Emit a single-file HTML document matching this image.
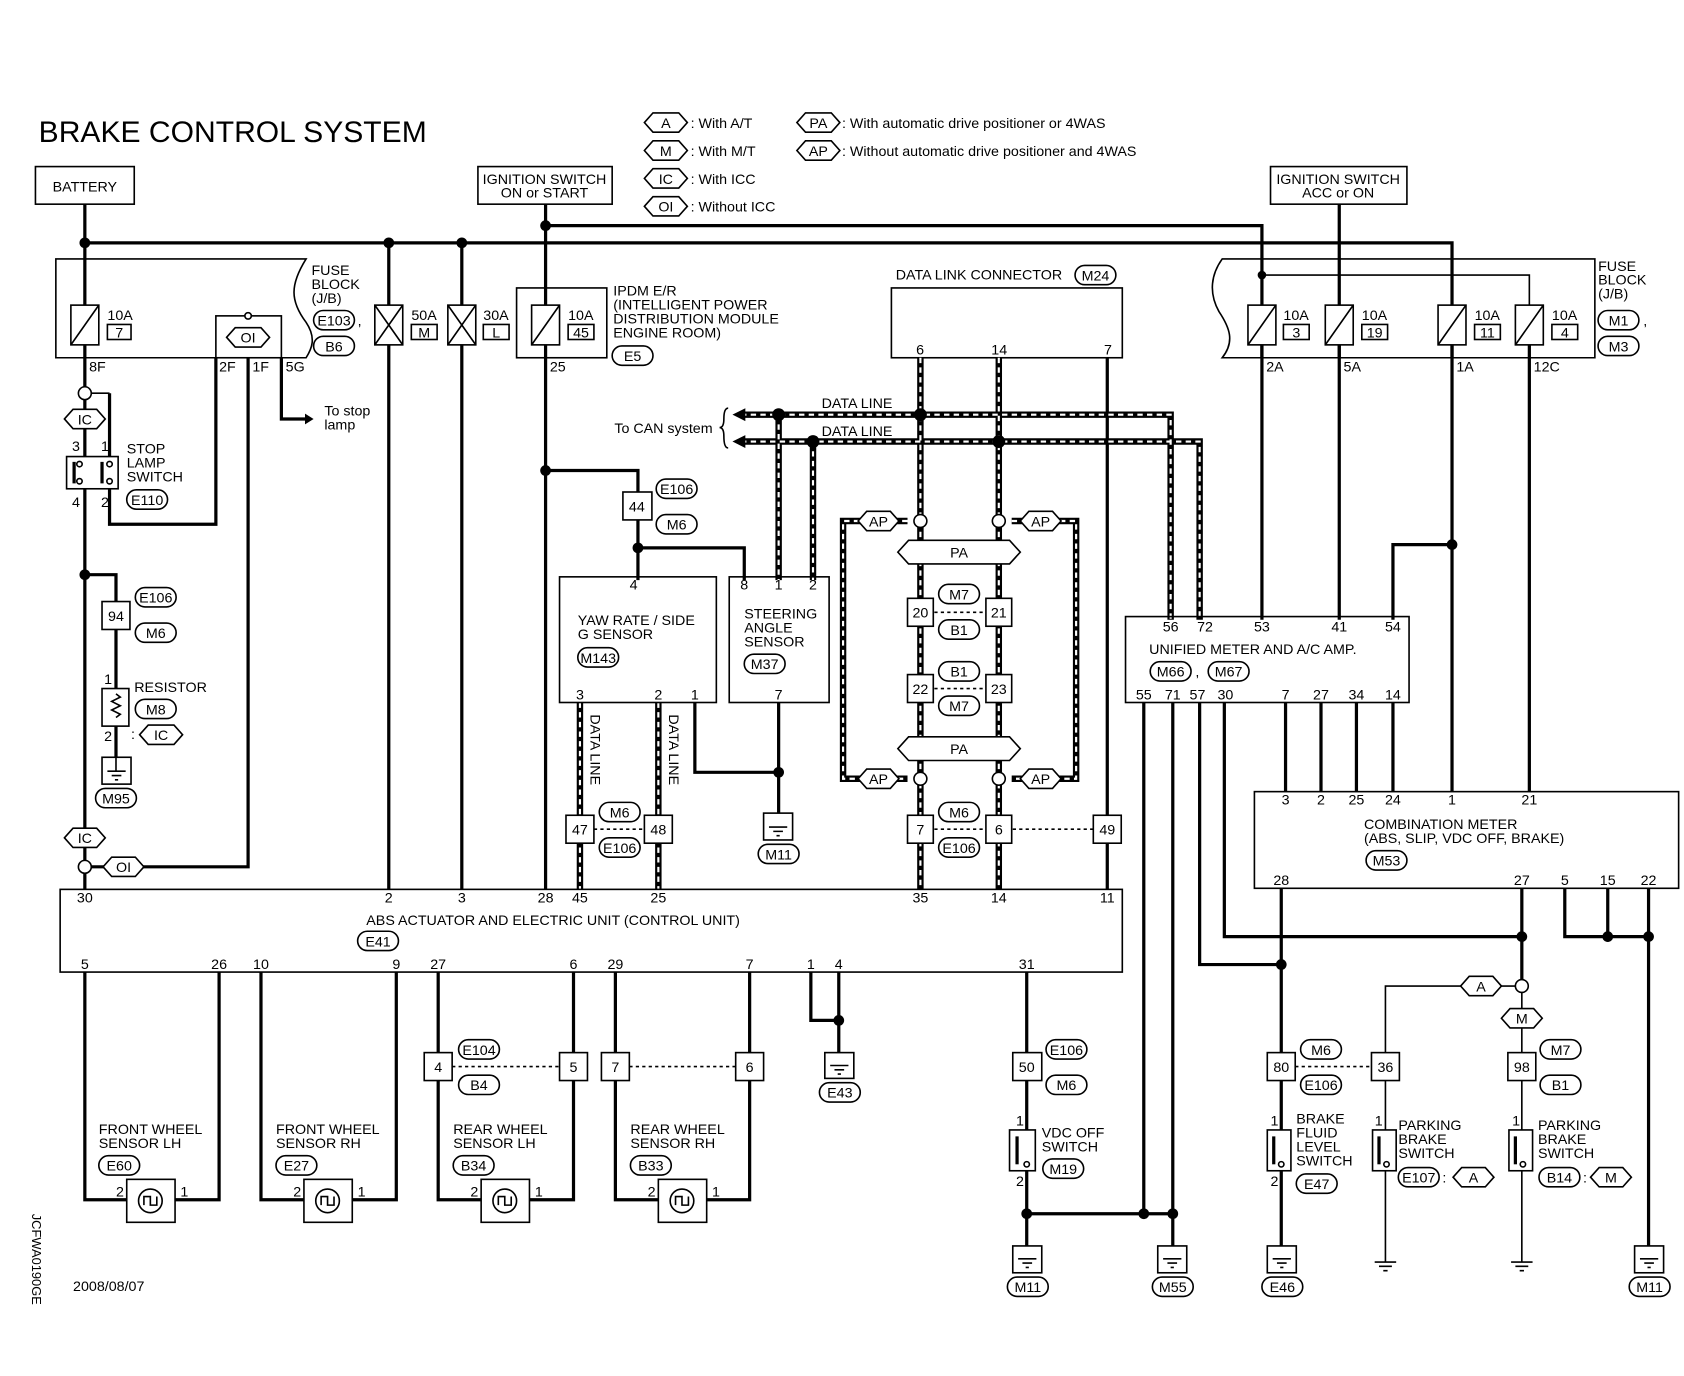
<!DOCTYPE html>
<html><head><meta charset="utf-8"><style>
html,body{margin:0;padding:0;background:#fff}
svg{display:block}
text{font-family:"Liberation Sans",sans-serif;font-size:13.3px;fill:#000}
.w{stroke:#000;stroke-width:3;fill:none}
.t{stroke:#000;stroke-width:1.5;fill:none}
.b{stroke:#000;stroke-width:1.5;fill:#fff}
.dk{stroke:#000;stroke-width:6;fill:none}
.dw{stroke:#fff;stroke-width:2;fill:none;stroke-dasharray:5 4}
.dot{stroke:#000;stroke-width:1.5;fill:none;stroke-dasharray:3 3}
.c{text-anchor:middle}
</style></head><body>
<svg width="1684" height="1376" viewBox="0 0 1568 1281" xmlns="http://www.w3.org/2000/svg">
<rect width="1568" height="1281" fill="#fff"/>
<text x="36" y="132" style="font-size:28px">BRAKE CONTROL SYSTEM</text>

<!-- legend -->
<g class="b">
<polygon points="600,114 608,105 632,105 640,114 632,123 608,123"/>
<polygon points="600,140 608,131 632,131 640,140 632,149 608,149"/>
<polygon points="600,166 608,157 632,157 640,166 632,175 608,175"/>
<polygon points="600,192 608,183 632,183 640,192 632,201 608,201"/>
<polygon points="742,114 750,105 774,105 782,114 774,123 750,123"/>
<polygon points="742,140 750,131 774,131 782,140 774,149 750,149"/>
</g>
<text x="620" y="119" class="c">A</text><text x="620" y="145" class="c">M</text><text x="620" y="171" class="c">IC</text><text x="620" y="197" class="c">OI</text>
<text x="762" y="119" class="c">PA</text><text x="762" y="145" class="c">AP</text>
<text x="643" y="119">: With A/T</text><text x="643" y="145">: With M/T</text><text x="643" y="171">: With ICC</text><text x="643" y="197">: Without ICC</text>
<text x="784" y="119">: With automatic drive positioner or 4WAS</text>
<text x="784" y="145">: Without automatic drive positioner and 4WAS</text>

<!-- top boxes -->
<rect x="33" y="155" width="92" height="35" class="b"/><text x="79" y="178" class="c">BATTERY</text>
<rect x="445" y="155" width="125" height="35" class="b"/><text x="507" y="171" class="c">IGNITION SWITCH</text><text x="507" y="184" class="c">ON or START</text>
<rect x="1183" y="155" width="127" height="35" class="b"/><text x="1246" y="171" class="c">IGNITION SWITCH</text><text x="1246" y="184" class="c">ACC or ON</text>

<!-- power lines -->
<path class="w" d="M79,190 V333 M79,226 H1352 V333 M508,190 V333 M508,210 H1175 V333 M1247,190 V333 M362,226 V828 M430,226 V828"/>
<path class="t" d="M1175,256 H1424 V285"/>
<circle cx="79" cy="226" r="5"/><circle cx="362" cy="226" r="5"/><circle cx="430" cy="226" r="5"/><circle cx="508" cy="210" r="5"/><circle cx="1175" cy="256" r="4"/>

<!-- left fuse block -->
<path class="t" d="M52,241 H285 C270,265 270,280 285,300 C295,315 290,325 285,333 H52 Z"/>
<text x="290" y="256">FUSE</text><text x="290" y="269">BLOCK</text><text x="290" y="282">(J/B)</text>
<rect x="292" y="289" width="38" height="18" rx="9" class="b"/><text x="311" y="303" class="c">E103</text><text x="333" y="303">,</text>
<rect x="292" y="313" width="38" height="18" rx="9" class="b"/><text x="311" y="327" class="c">B6</text>
<rect x="66" y="284" width="26" height="37" class="b"/><path class="t" d="M66,321 L92,284"/>
<text x="100" y="298">10A</text><rect x="100" y="302" width="22" height="14" class="b"/><text x="111" y="314" class="c">7</text>
<rect x="201" y="294" width="61" height="39" class="b"/><circle cx="231" cy="294" r="3" class="b"/>
<polygon class="b" points="211,314 219,305 243,305 251,314 243,323 219,323"/><text x="231" y="319" class="c">OI</text>
<text x="83" y="346">8F</text><text x="204" y="346">2F</text><text x="235" y="346">1F</text><text x="266" y="346">5G</text>
<path class="w" d="M262,333 V390 H285"/><polygon points="292,390 284,385 284,395"/>
<text x="302" y="387">To stop</text><text x="302" y="400">lamp</text>
<rect x="349" y="284" width="26" height="37" class="b"/><path class="t" d="M349,284 L375,321 M375,284 L349,321"/>
<text x="383" y="298">50A</text><rect x="383" y="302" width="24" height="14" class="b"/><text x="395" y="314" class="c">M</text>
<rect x="417" y="284" width="26" height="37" class="b"/><path class="t" d="M417,284 L443,321 M443,284 L417,321"/>
<text x="450" y="298">30A</text><rect x="450" y="302" width="24" height="14" class="b"/><text x="462" y="314" class="c">L</text>
<rect x="481" y="268" width="84" height="65" class="t"/>
<rect x="495" y="284" width="26" height="37" class="b"/><path class="t" d="M495,321 L521,284"/>
<text x="529" y="298">10A</text><rect x="529" y="302" width="24" height="14" class="b"/><text x="541" y="314" class="c">45</text>
<text x="571" y="275">IPDM E/R</text><text x="571" y="288">(INTELLIGENT POWER</text><text x="571" y="301">DISTRIBUTION MODULE</text><text x="571" y="314">ENGINE ROOM)</text>
<rect x="570" y="322" width="38" height="18" rx="9" class="b"/><text x="589" y="336" class="c">E5</text>
<text x="512" y="346">25</text>

<!-- left wiring -->
<path class="w" d="M79,333 V828 M102,366 V425 M102,455 V488 H201 V333 M79,807 H231 V333 M79,535 H108 V560 M108,586 V705"/>
<path class="t" d="M79,366 H102"/>
<circle cx="79" cy="366" r="6" class="b"/>
<polygon class="b" points="60,390 68,381 90,381 98,390 90,399 68,399"/><text x="79" y="395" class="c">IC</text>
<rect x="62" y="425" width="48" height="30" class="b"/>
<path class="w" d="M69,430 V450 M95,430 V450"/>
<circle cx="74" cy="432" r="2.5" class="b"/><circle cx="74" cy="448" r="2.5" class="b"/><circle cx="102" cy="432" r="2.5" class="b"/><circle cx="102" cy="448" r="2.5" class="b"/>
<text x="67" y="420">3</text><text x="94" y="420">1</text><text x="67" y="472">4</text><text x="94" y="472">2</text>
<text x="118" y="422">STOP</text><text x="118" y="435">LAMP</text><text x="118" y="448">SWITCH</text>
<rect x="118" y="456" width="38" height="18" rx="9" class="b"/><text x="137" y="470" class="c">E110</text>
<circle cx="79" cy="535" r="5"/>
<rect x="95" y="560" width="26" height="26" class="b"/><text x="108" y="578" class="c">94</text>
<rect x="126" y="547" width="38" height="18" rx="9" class="b"/><text x="145" y="561" class="c">E106</text>
<rect x="126" y="580" width="38" height="18" rx="9" class="b"/><text x="145" y="594" class="c">M6</text>
<rect x="95" y="641" width="25" height="35" class="b"/><path class="t" d="M108,646 l4,3 l-8,4 l8,4 l-8,4 l8,4 l-4,3"/>
<text x="97" y="637">1</text><text x="97" y="690">2</text><text x="125" y="644">RESISTOR</text>
<rect x="126" y="651" width="38" height="18" rx="9" class="b"/><text x="145" y="665" class="c">M8</text>
<text x="122" y="688">:</text><polygon class="b" points="130,684 138,675 162,675 170,684 162,693 138,693"/><text x="150" y="689" class="c">IC</text>
<rect x="95" y="705" width="27" height="25" class="b"/><path class="t" d="M100,718 H117 M104,722 H113 M107,726 H110 M108,705 V718"/>
<rect x="89" y="734" width="38" height="18" rx="9" class="b"/><text x="108" y="748" class="c">M95</text>
<polygon class="b" points="60,780 68,771 90,771 98,780 90,789 68,789"/><text x="79" y="785" class="c">IC</text>
<circle cx="79" cy="807" r="6" class="b"/>
<polygon class="b" points="96,807 104,798 126,798 134,807 126,816 104,816"/><text x="115" y="812" class="c">OI</text>

<!-- IPDM to sensors -->
<path class="w" d="M508,333 V828 M508,438 H594 V458 M594,484 V540 M594,510 H693 V540"/>
<circle cx="508" cy="438" r="5"/><circle cx="594" cy="510" r="5"/>
<rect x="580" y="458" width="27" height="26" class="b"/><text x="593" y="476" class="c">44</text>
<rect x="611" y="446" width="38" height="18" rx="9" class="b"/><text x="630" y="460" class="c">E106</text>
<rect x="611" y="479" width="38" height="18" rx="9" class="b"/><text x="630" y="493" class="c">M6</text>

<!-- data link connector -->
<text x="834" y="260">DATA LINK CONNECTOR</text>
<rect x="1001" y="247" width="38" height="18" rx="9" class="b"/><text x="1020" y="261" class="c">M24</text>
<rect x="830" y="268" width="215" height="65" class="t"/>
<text x="853" y="330">6</text><text x="923" y="330">14</text><text x="1028" y="330">7</text>
<path class="w" d="M1031,333 V828"/>

<!-- data lines -->
<g>
<path class="dk" d="M690,386 H1090 V577 M690,411 H1117 V577 M725,386 V540 M757,411 V540 M857,333 V828 M930,333 V828 M845,485 H785 V725 H845 M942,485 H1002 V725 H942 M540,654 V828 M613,654 V828"/>
<path class="dw" d="M690,386 H1090 V577 M690,411 H1117 V577 M725,386 V540 M757,411 V540 M857,333 V828 M930,333 V828 M845,485 H785 V725 H845 M942,485 H1002 V725 H942 M540,654 V828 M613,654 V828"/>
</g>
<polygon points="682,386 694,380 694,392"/><polygon points="682,411 694,405 694,417"/>
<path class="t" d="M678,380 Q674,380 674,390 Q674,398 670,398 Q674,398 674,406 Q674,417 678,417"/>
<text x="572" y="403">To CAN system</text>
<text x="765" y="380">DATA LINE</text><text x="765" y="406">DATA LINE</text>
<circle cx="725" cy="386" r="6"/><circle cx="857" cy="386" r="6"/><circle cx="757" cy="411" r="6"/><circle cx="930" cy="411" r="6"/>
<circle cx="857" cy="485" r="6" class="b"/><circle cx="930" cy="485" r="6" class="b"/>
<circle cx="857" cy="725" r="6" class="b"/><circle cx="930" cy="725" r="6" class="b"/>
<g class="b">
<polygon points="799,485 807,476 829,476 837,485 829,494 807,494"/>
<polygon points="950,485 958,476 980,476 988,485 980,494 958,494"/>
<polygon points="799,725 807,716 829,716 837,725 829,734 807,734"/>
<polygon points="950,725 958,716 980,716 988,725 980,734 958,734"/>
<polygon points="836,514 846,503 940,503 950,514 940,525 846,525"/>
<polygon points="836,697 846,686 940,686 950,697 940,708 846,708"/>
</g>
<text x="818" y="490" class="c">AP</text><text x="969" y="490" class="c">AP</text><text x="818" y="730" class="c">AP</text><text x="969" y="730" class="c">AP</text>
<text x="893" y="519" class="c">PA</text><text x="893" y="702" class="c">PA</text>
<path class="dot" d="M870,570 H917 M870,641 H917 M870,772 H917 M943,772 H1018 M553,772 H600 M421,993 H521 M586,993 H685 M1206,993 H1277"/>
<g class="b">
<rect x="845" y="557" width="24" height="26"/><rect x="918" y="557" width="24" height="26"/>
<rect x="845" y="628" width="24" height="26"/><rect x="918" y="628" width="24" height="26"/>
<rect x="845" y="759" width="24" height="26"/><rect x="918" y="759" width="24" height="26"/>
<rect x="1018" y="759" width="26" height="26"/>
<rect x="874" y="544" width="38" height="18" rx="9"/><rect x="874" y="577" width="38" height="18" rx="9"/>
<rect x="874" y="616" width="38" height="18" rx="9"/><rect x="874" y="648" width="38" height="18" rx="9"/>
<rect x="874" y="747" width="38" height="18" rx="9"/><rect x="874" y="780" width="38" height="18" rx="9"/>
</g>
<text x="857" y="575" class="c">20</text><text x="930" y="575" class="c">21</text><text x="857" y="646" class="c">22</text><text x="930" y="646" class="c">23</text>
<text x="857" y="777" class="c">7</text><text x="930" y="777" class="c">6</text><text x="1031" y="777" class="c">49</text>
<text x="893" y="558" class="c">M7</text><text x="893" y="591" class="c">B1</text><text x="893" y="630" class="c">B1</text><text x="893" y="662" class="c">M7</text>
<text x="893" y="761" class="c">M6</text><text x="893" y="794" class="c">E106</text>

<!-- yaw & steering -->
<rect x="521" y="537" width="146" height="117" class="t"/>
<text x="590" y="549" class="c">4</text><text x="538" y="582">YAW RATE / SIDE</text><text x="538" y="595">G SENSOR</text>
<rect x="538" y="603" width="38" height="18" rx="9" class="b"/><text x="557" y="617" class="c">M143</text>
<text x="540" y="651" class="c">3</text><text x="613" y="651" class="c">2</text><text x="647" y="651" class="c">1</text>
<rect x="679" y="537" width="93" height="117" class="t"/>
<text x="693" y="549" class="c">8</text><text x="725" y="549" class="c">1</text><text x="757" y="549" class="c">2</text>
<text x="693" y="576">STEERING</text><text x="693" y="589">ANGLE</text><text x="693" y="602">SENSOR</text>
<rect x="693" y="609" width="38" height="18" rx="9" class="b"/><text x="712" y="623" class="c">M37</text>
<text x="725" y="651" class="c">7</text>
<path class="w" d="M647,654 V719 H725 M725,654 V757"/><circle cx="725" cy="719" r="5"/>
<rect x="711" y="757" width="27" height="25" class="b"/><path class="t" d="M716,770 H733 M720,774 H729 M723,778 H726"/>
<rect x="706" y="786" width="38" height="18" rx="9" class="b"/><text x="725" y="800" class="c">M11</text>
<text transform="translate(550,665) rotate(90)">DATA LINE</text><text transform="translate(623,665) rotate(90)">DATA LINE</text>
<g class="b"><rect x="527" y="759" width="26" height="26"/><rect x="600" y="759" width="26" height="26"/>
<rect x="558" y="747" width="38" height="18" rx="9"/><rect x="558" y="780" width="38" height="18" rx="9"/></g>
<text x="540" y="777" class="c">47</text><text x="613" y="777" class="c">48</text><text x="577" y="761" class="c">M6</text><text x="577" y="794" class="c">E106</text>

<!-- ABS unit -->
<rect x="56" y="828" width="989" height="77" class="t"/>
<text x="79" y="840" class="c">30</text><text x="362" y="840" class="c">2</text><text x="430" y="840" class="c">3</text><text x="508" y="840" class="c">28</text><text x="540" y="840" class="c">45</text><text x="613" y="840" class="c">25</text><text x="857" y="840" class="c">35</text><text x="930" y="840" class="c">14</text><text x="1031" y="840" class="c">11</text>
<text x="515" y="861" class="c">ABS ACTUATOR AND ELECTRIC UNIT (CONTROL UNIT)</text>
<rect x="333" y="867" width="38" height="18" rx="9" class="b"/><text x="352" y="881" class="c">E41</text>
<text x="79" y="902" class="c">5</text><text x="204" y="902" class="c">26</text><text x="243" y="902" class="c">10</text><text x="369" y="902" class="c">9</text><text x="408" y="902" class="c">27</text><text x="534" y="902" class="c">6</text><text x="573" y="902" class="c">29</text><text x="698" y="902" class="c">7</text><text x="755" y="902" class="c">1</text><text x="781" y="902" class="c">4</text><text x="956" y="902" class="c">31</text>

<!-- wheel sensors -->
<path class="w" d="M79,905 V1117 H118 M204,905 V1117 H163 M243,905 V1117 H283 M369,905 V1117 H328 M408,905 V1117 H448 M534,905 V1117 H493 M573,905 V1117 H613 M698,905 V1117 H658"/>
<g class="b">
<rect x="118" y="1098" width="45" height="40"/><rect x="283" y="1098" width="45" height="40"/><rect x="448" y="1098" width="45" height="40"/><rect x="613" y="1098" width="45" height="40"/>
<circle cx="140" cy="1118" r="11"/><circle cx="305" cy="1118" r="11"/><circle cx="470" cy="1118" r="11"/><circle cx="635" cy="1118" r="11"/>
</g>
<path class="t" d="M134,1122 v-8 h6 v8 h6 v-8 M299,1122 v-8 h6 v8 h6 v-8 M464,1122 v-8 h6 v8 h6 v-8 M629,1122 v-8 h6 v8 h6 v-8"/>
<text x="108" y="1114">2</text><text x="168" y="1114">1</text><text x="273" y="1114">2</text><text x="333" y="1114">1</text><text x="438" y="1114">2</text><text x="498" y="1114">1</text><text x="603" y="1114">2</text><text x="663" y="1114">1</text>
<text x="92" y="1056">FRONT WHEEL</text><text x="92" y="1069">SENSOR LH</text>
<rect x="92" y="1076" width="38" height="18" rx="9" class="b"/><text x="111" y="1090" class="c">E60</text>
<text x="257" y="1056">FRONT WHEEL</text><text x="257" y="1069">SENSOR RH</text>
<rect x="257" y="1076" width="38" height="18" rx="9" class="b"/><text x="276" y="1090" class="c">E27</text>
<text x="422" y="1056">REAR WHEEL</text><text x="422" y="1069">SENSOR LH</text>
<rect x="422" y="1076" width="38" height="18" rx="9" class="b"/><text x="441" y="1090" class="c">B34</text>
<text x="587" y="1056">REAR WHEEL</text><text x="587" y="1069">SENSOR RH</text>
<rect x="587" y="1076" width="38" height="18" rx="9" class="b"/><text x="606" y="1090" class="c">B33</text>
<g class="b"><rect x="395" y="980" width="26" height="26"/><rect x="521" y="980" width="26" height="26"/><rect x="560" y="980" width="26" height="26"/><rect x="685" y="980" width="26" height="26"/>
<rect x="427" y="968" width="38" height="18" rx="9"/><rect x="427" y="1001" width="38" height="18" rx="9"/></g>
<text x="408" y="998" class="c">4</text><text x="534" y="998" class="c">5</text><text x="573" y="998" class="c">7</text><text x="698" y="998" class="c">6</text>
<text x="446" y="982" class="c">E104</text><text x="446" y="1015" class="c">B4</text>

<!-- ABS ground -->
<path class="w" d="M755,905 V950 H781 M781,905 V980"/><circle cx="781" cy="950" r="5"/>
<rect x="768" y="980" width="27" height="24" class="b"/><path class="t" d="M773,992 H790 M777,996 H786 M780,1000 H783"/>
<rect x="763" y="1008" width="38" height="18" rx="9" class="b"/><text x="782" y="1022" class="c">E43</text>

<!-- VDC OFF -->
<path class="w" d="M956,905 V1160 M956,1130 H1092 M1065,654 V1130 M1092,654 V1160"/>
<circle cx="956" cy="1130" r="5"/><circle cx="1065" cy="1130" r="5"/><circle cx="1092" cy="1130" r="5"/>
<rect x="943" y="980" width="27" height="26" class="b"/><text x="956" y="998" class="c">50</text>
<rect x="974" y="968" width="38" height="18" rx="9" class="b"/><text x="993" y="982" class="c">E106</text>
<rect x="974" y="1001" width="38" height="18" rx="9" class="b"/><text x="993" y="1015" class="c">M6</text>
<rect x="940" y="1052" width="24" height="38" class="b"/><path class="w" d="M947,1058 V1084"/><circle cx="956" cy="1084" r="2.5" class="b"/>
<text x="946" y="1048">1</text><text x="946" y="1104">2</text>
<text x="970" y="1059">VDC OFF</text><text x="970" y="1072">SWITCH</text>
<rect x="971" y="1079" width="38" height="18" rx="9" class="b"/><text x="990" y="1093" class="c">M19</text>
<rect x="943" y="1160" width="27" height="25" class="b"/><path class="t" d="M948,1172 H965 M952,1176 H961 M955,1180 H958"/>
<rect x="938" y="1189" width="38" height="18" rx="9" class="b"/><text x="957" y="1203" class="c">M11</text>
<rect x="1078" y="1160" width="27" height="25" class="b"/><path class="t" d="M1083,1172 H1100 M1087,1176 H1096 M1090,1180 H1093"/>
<rect x="1073" y="1189" width="38" height="18" rx="9" class="b"/><text x="1092" y="1203" class="c">M55</text>

<!-- right fuse block -->
<path class="t" d="M1138,241 H1485 V333 H1138 C1150,318 1145,305 1135,290 C1125,272 1128,255 1138,241 Z"/>
<text x="1488" y="252">FUSE</text><text x="1488" y="265">BLOCK</text><text x="1488" y="278">(J/B)</text>
<rect x="1488" y="289" width="38" height="18" rx="9" class="b"/><text x="1507" y="303" class="c">M1</text><text x="1530" y="303">,</text>
<rect x="1488" y="313" width="38" height="18" rx="9" class="b"/><text x="1507" y="327" class="c">M3</text>
<g class="b"><rect x="1162" y="284" width="26" height="37"/><rect x="1234" y="284" width="26" height="37"/><rect x="1339" y="284" width="26" height="37"/><rect x="1411" y="284" width="26" height="37"/></g>
<path class="t" d="M1162,321 L1188,284 M1234,321 L1260,284 M1339,321 L1365,284 M1411,321 L1437,284"/>
<text x="1195" y="298">10A</text><rect x="1195" y="302" width="24" height="14" class="b"/><text x="1207" y="314" class="c">3</text>
<text x="1268" y="298">10A</text><rect x="1268" y="302" width="24" height="14" class="b"/><text x="1280" y="314" class="c">19</text>
<text x="1373" y="298">10A</text><rect x="1373" y="302" width="24" height="14" class="b"/><text x="1385" y="314" class="c">11</text>
<text x="1445" y="298">10A</text><rect x="1445" y="302" width="24" height="14" class="b"/><text x="1457" y="314" class="c">4</text>
<text x="1179" y="346">2A</text><text x="1251" y="346">5A</text><text x="1356" y="346">1A</text><text x="1428" y="346">12C</text>
<path class="w" d="M1175,321 V577 M1247,321 V577 M1352,321 V737 M1352,507 H1297 V577 M1424,321 V737"/>
<circle cx="1352" cy="507" r="5"/>

<!-- unified meter -->
<rect x="1048" y="574" width="264" height="80" class="t"/>
<text x="1090" y="588" class="c">56</text><text x="1122" y="588" class="c">72</text><text x="1175" y="588" class="c">53</text><text x="1247" y="588" class="c">41</text><text x="1297" y="588" class="c">54</text>
<text x="1070" y="609">UNIFIED METER AND A/C AMP.</text>
<rect x="1071" y="616" width="38" height="18" rx="9" class="b"/><text x="1090" y="630" class="c">M66</text><text x="1113" y="630">,</text>
<rect x="1125" y="616" width="38" height="18" rx="9" class="b"/><text x="1144" y="630" class="c">M67</text>
<text x="1065" y="651" class="c">55</text><text x="1092" y="651" class="c">71</text><text x="1115" y="651" class="c">57</text><text x="1141" y="651" class="c">30</text><text x="1197" y="651" class="c">7</text><text x="1230" y="651" class="c">27</text><text x="1263" y="651" class="c">34</text><text x="1297" y="651" class="c">14</text>
<path class="w" d="M1197,654 V737 M1230,654 V737 M1263,654 V737 M1297,654 V737 M1117,654 V898 H1193 M1140,654 V872 H1417"/>

<!-- combination meter -->
<rect x="1168" y="737" width="395" height="90" class="t"/>
<text x="1197" y="749" class="c">3</text><text x="1230" y="749" class="c">2</text><text x="1263" y="749" class="c">25</text><text x="1297" y="749" class="c">24</text><text x="1352" y="749" class="c">1</text><text x="1424" y="749" class="c">21</text>
<text x="1270" y="772">COMBINATION METER</text><text x="1270" y="785">(ABS, SLIP, VDC OFF, BRAKE)</text>
<rect x="1272" y="792" width="38" height="18" rx="9" class="b"/><text x="1291" y="806" class="c">M53</text>
<text x="1193" y="824" class="c">28</text><text x="1417" y="824" class="c">27</text><text x="1457" y="824" class="c">5</text><text x="1497" y="824" class="c">15</text><text x="1535" y="824" class="c">22</text>
<path class="w" d="M1193,827 V1160 M1417,827 V912 M1457,827 V872 H1535 M1497,827 V872 M1535,827 V1160"/>
<circle cx="1193" cy="898" r="5"/><circle cx="1417" cy="872" r="5"/><circle cx="1497" cy="872" r="5"/><circle cx="1535" cy="872" r="5"/>
<path class="t" d="M1411,918 H1290 V980 M1417,924 V980 M1290,1006 V1052 M1290,1090 V1175 M1417,1006 V1052 M1417,1090 V1175 M1280,1175 H1300 M1284,1179 H1296 M1288,1183 H1292 M1407,1175 H1427 M1411,1179 H1423 M1415,1183 H1419"/>
<circle cx="1417" cy="918" r="6" class="b"/>
<polygon class="b" points="1360,918 1368,909 1390,909 1398,918 1390,927 1368,927"/><text x="1379" y="923" class="c">A</text>
<polygon class="b" points="1398,948 1406,939 1428,939 1436,948 1428,957 1406,957"/><text x="1417" y="953" class="c">M</text>
<g class="b"><rect x="1180" y="980" width="26" height="26"/><rect x="1277" y="980" width="26" height="26"/><rect x="1404" y="980" width="26" height="26"/>
<rect x="1211" y="968" width="38" height="18" rx="9"/><rect x="1211" y="1001" width="38" height="18" rx="9"/>
<rect x="1434" y="968" width="38" height="18" rx="9"/><rect x="1434" y="1001" width="38" height="18" rx="9"/></g>
<text x="1193" y="998" class="c">80</text><text x="1290" y="998" class="c">36</text><text x="1417" y="998" class="c">98</text>
<text x="1230" y="982" class="c">M6</text><text x="1230" y="1015" class="c">E106</text><text x="1453" y="982" class="c">M7</text><text x="1453" y="1015" class="c">B1</text>
<rect x="1180" y="1052" width="22" height="38" class="b"/><path class="w" d="M1186,1058 V1084"/><circle cx="1193" cy="1084" r="2.5" class="b"/>
<text x="1183" y="1048">1</text><text x="1183" y="1104">2</text>
<text x="1207" y="1046">BRAKE</text><text x="1207" y="1059">FLUID</text><text x="1207" y="1072">LEVEL</text><text x="1207" y="1085">SWITCH</text>
<rect x="1207" y="1093" width="38" height="18" rx="9" class="b"/><text x="1226" y="1107" class="c">E47</text>
<rect x="1278" y="1052" width="22" height="38" class="b"/><path class="w" d="M1284,1058 V1084"/><circle cx="1291" cy="1084" r="2.5" class="b"/>
<text x="1280" y="1048">1</text>
<text x="1302" y="1052">PARKING</text><text x="1302" y="1065">BRAKE</text><text x="1302" y="1078">SWITCH</text>
<rect x="1302" y="1087" width="38" height="18" rx="9" class="b"/><text x="1321" y="1101" class="c">E107</text><text x="1343" y="1101">:</text>
<polygon class="b" points="1353,1096 1361,1087 1383,1087 1391,1096 1383,1105 1361,1105"/><text x="1372" y="1101" class="c">A</text>
<rect x="1405" y="1052" width="22" height="38" class="b"/><path class="w" d="M1411,1058 V1084"/><circle cx="1418" cy="1084" r="2.5" class="b"/>
<text x="1408" y="1048">1</text>
<text x="1432" y="1052">PARKING</text><text x="1432" y="1065">BRAKE</text><text x="1432" y="1078">SWITCH</text>
<rect x="1433" y="1087" width="38" height="18" rx="9" class="b"/><text x="1452" y="1101" class="c">B14</text><text x="1474" y="1101">:</text>
<polygon class="b" points="1481,1096 1489,1087 1511,1087 1519,1096 1511,1105 1489,1105"/><text x="1500" y="1101" class="c">M</text>
<rect x="1180" y="1160" width="27" height="25" class="b"/><path class="t" d="M1185,1172 H1202 M1189,1176 H1198 M1192,1180 H1195"/>
<rect x="1175" y="1189" width="38" height="18" rx="9" class="b"/><text x="1194" y="1203" class="c">E46</text>
<rect x="1522" y="1160" width="27" height="25" class="b"/><path class="t" d="M1527,1172 H1544 M1531,1176 H1540 M1534,1180 H1537"/>
<rect x="1517" y="1189" width="38" height="18" rx="9" class="b"/><text x="1536" y="1203" class="c">M11</text>

<text x="68" y="1202">2008/08/07</text>
<text transform="translate(30,1130) rotate(90)" style="font-size:12px">JCFWA0190GE</text>
</svg>
</body></html>
